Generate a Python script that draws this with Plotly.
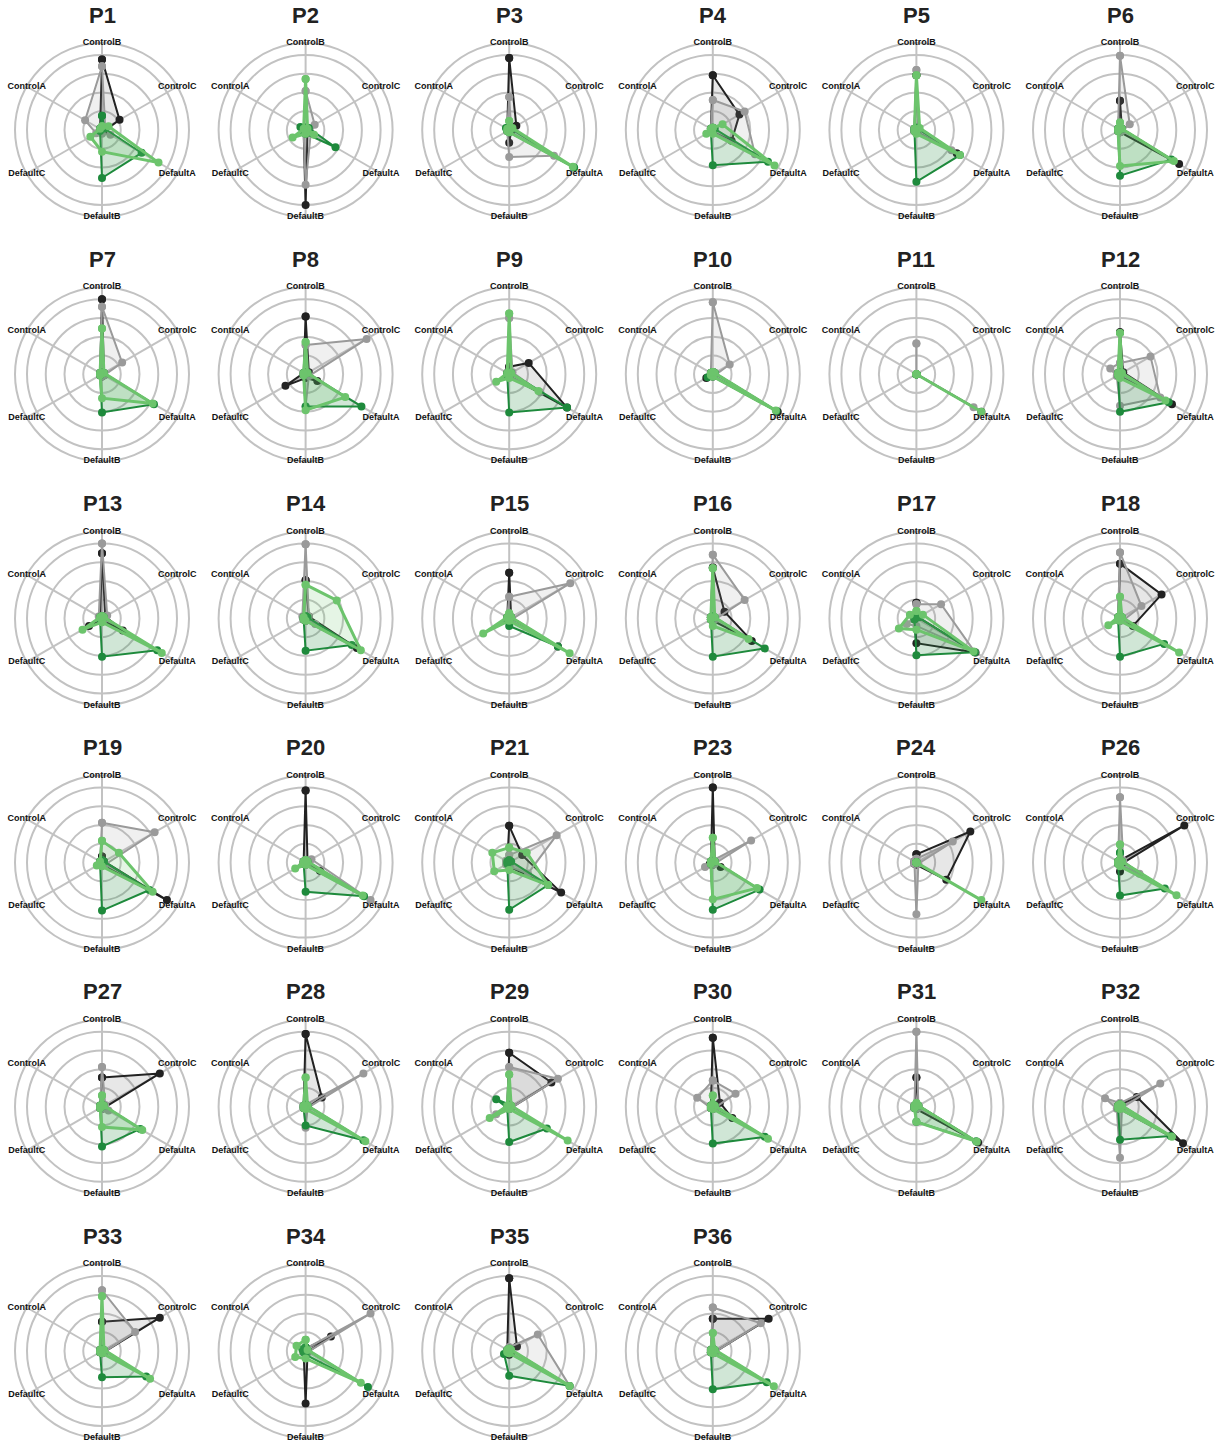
import plotly.graph_objects as go

# Axis categories, clockwise from the top
CATS = ["ControlB", "ControlC", "DefaultA", "DefaultB", "DefaultC", "ControlA"]

PANELS = ["P1", "P2", "P3", "P4", "P5", "P6",
          "P7", "P8", "P9", "P10", "P11", "P12",
          "P13", "P14", "P15", "P16", "P17", "P18",
          "P19", "P20", "P21", "P23", "P24", "P26",
          "P27", "P28", "P29", "P30", "P31", "P32",
          "P33", "P34", "P35", "P36"]

# Values per panel, ordered as CATS
black = [
    [0.94, 0.27, 0.03, 0.03, 0.03, 0.03],
    [0.03, 0.03, 0.03, 1.00, 0.03, 0.03],
    [0.96, 0.11, 0.03, 0.17, 0.03, 0.03],
    [0.73, 0.41, 0.29, 0.03, 0.03, 0.03],
    [0.73, 0.03, 0.62, 0.03, 0.03, 0.03],
    [0.39, 0.03, 0.91, 0.03, 0.03, 0.03],
    [1.00, 0.03, 0.03, 0.03, 0.03, 0.03],
    [0.77, 0.05, 0.18, 0.05, 0.31, 0.03],
    [0.10, 0.30, 0.89, 0.03, 0.03, 0.03],
    [0.03, 0.03, 1.00, 0.03, 0.10, 0.03],
    [0.00, 0.00, 1.00, 0.00, 0.00, 0.00],
    [0.56, 0.05, 0.80, 0.03, 0.03, 0.03],
    [0.87, 0.05, 0.32, 0.03, 0.20, 0.03],
    [0.51, 0.05, 0.79, 0.03, 0.03, 0.03],
    [0.61, 0.03, 0.75, 0.03, 0.03, 0.03],
    [0.68, 0.18, 0.60, 0.03, 0.03, 0.03],
    [0.21, 0.03, 0.91, 0.33, 0.03, 0.03],
    [0.73, 0.64, 0.20, 0.03, 0.03, 0.03],
    [0.08, 0.03, 1.00, 0.03, 0.03, 0.03],
    [0.96, 0.03, 0.22, 0.03, 0.03, 0.03],
    [0.49, 0.20, 0.80, 0.05, 0.03, 0.03],
    [1.00, 0.03, 0.12, 0.03, 0.05, 0.03],
    [0.11, 0.83, 0.46, 0.03, 0.03, 0.03],
    [0.03, 0.99, 0.03, 0.12, 0.03, 0.03],
    [0.39, 0.89, 0.03, 0.03, 0.03, 0.03],
    [0.97, 0.25, 0.03, 0.03, 0.03, 0.03],
    [0.72, 0.65, 0.03, 0.03, 0.03, 0.03],
    [0.92, 0.11, 0.30, 0.03, 0.03, 0.03],
    [0.39, 0.03, 0.95, 0.03, 0.03, 0.03],
    [0.03, 0.26, 0.97, 0.03, 0.03, 0.03],
    [0.39, 0.89, 0.03, 0.03, 0.03, 0.03],
    [0.03, 0.39, 0.03, 0.70, 0.03, 0.03],
    [0.97, 0.12, 0.03, 0.05, 0.03, 0.03],
    [0.43, 0.86, 0.03, 0.03, 0.03, 0.03],
]

gray = [
    [0.85, 0.05, 0.13, 0.05, 0.09, 0.26],
    [0.52, 0.14, 0.08, 0.73, 0.03, 0.03],
    [0.44, 0.03, 0.69, 0.36, 0.03, 0.03],
    [0.40, 0.49, 0.65, 0.03, 0.03, 0.03],
    [0.80, 0.03, 0.54, 0.03, 0.03, 0.03],
    [0.99, 0.15, 0.03, 0.03, 0.03, 0.03],
    [0.90, 0.31, 0.03, 0.03, 0.03, 0.03],
    [0.39, 0.94, 0.05, 0.43, 0.03, 0.03],
    [0.75, 0.05, 0.48, 0.03, 0.03, 0.03],
    [0.96, 0.26, 0.03, 0.03, 0.03, 0.03],
    [0.41, 0.00, 0.88, 0.00, 0.00, 0.00],
    [0.15, 0.47, 0.62, 0.42, 0.05, 0.15],
    [1.00, 0.08, 0.03, 0.03, 0.03, 0.05],
    [0.99, 0.05, 0.15, 0.03, 0.03, 0.05],
    [0.29, 0.94, 0.03, 0.03, 0.03, 0.03],
    [0.85, 0.49, 0.03, 0.03, 0.03, 0.03],
    [0.19, 0.38, 0.90, 0.10, 0.15, 0.03],
    [0.88, 0.33, 0.05, 0.03, 0.03, 0.03],
    [0.53, 0.81, 0.05, 0.03, 0.05, 0.03],
    [0.03, 0.09, 1.00, 0.03, 0.03, 0.03],
    [0.10, 0.73, 0.29, 0.05, 0.05, 0.05],
    [0.03, 0.59, 0.03, 0.03, 0.12, 0.03],
    [0.05, 0.56, 0.03, 0.69, 0.03, 0.03],
    [0.87, 0.05, 0.30, 0.03, 0.03, 0.03],
    [0.53, 0.05, 0.10, 0.03, 0.03, 0.03],
    [0.03, 0.89, 0.03, 0.28, 0.03, 0.03],
    [0.53, 0.75, 0.03, 0.03, 0.20, 0.03],
    [0.35, 0.35, 0.03, 0.03, 0.03, 0.24],
    [1.00, 0.03, 0.03, 0.03, 0.03, 0.03],
    [0.05, 0.62, 0.03, 0.68, 0.05, 0.23],
    [0.81, 0.51, 0.03, 0.03, 0.03, 0.03],
    [0.03, 1.00, 0.03, 0.03, 0.03, 0.03],
    [0.05, 0.44, 0.93, 0.03, 0.03, 0.03],
    [0.58, 0.74, 0.03, 0.03, 0.03, 0.03],
]

dark_green = [
    [0.19, 0.04, 0.61, 0.64, 0.03, 0.03],
    [0.03, 0.05, 0.46, 0.05, 0.03, 0.08],
    [0.05, 0.03, 1.00, 0.03, 0.03, 0.05],
    [0.03, 0.03, 0.85, 0.47, 0.03, 0.03],
    [0.03, 0.03, 0.67, 0.69, 0.03, 0.03],
    [0.03, 0.03, 0.79, 0.61, 0.03, 0.03],
    [0.03, 0.03, 0.80, 0.51, 0.03, 0.03],
    [0.03, 0.03, 0.86, 0.43, 0.03, 0.03],
    [0.03, 0.03, 0.89, 0.51, 0.03, 0.03],
    [0.03, 0.03, 0.98, 0.03, 0.08, 0.03],
    [0.00, 0.00, 0.00, 0.00, 0.00, 0.00],
    [0.03, 0.03, 0.75, 0.50, 0.03, 0.03],
    [0.03, 0.03, 0.85, 0.51, 0.03, 0.03],
    [0.03, 0.03, 0.71, 0.43, 0.03, 0.03],
    [0.03, 0.03, 0.75, 0.10, 0.03, 0.03],
    [0.03, 0.03, 0.80, 0.51, 0.03, 0.03],
    [0.03, 0.03, 0.90, 0.49, 0.03, 0.03],
    [0.03, 0.03, 0.68, 0.51, 0.03, 0.03],
    [0.03, 0.03, 0.73, 0.64, 0.03, 0.03],
    [0.03, 0.03, 0.90, 0.39, 0.03, 0.03],
    [0.03, 0.03, 0.60, 0.63, 0.03, 0.03],
    [0.03, 0.03, 0.72, 0.63, 0.03, 0.03],
    [0.00, 0.00, 0.00, 0.00, 0.00, 0.00],
    [0.13, 0.03, 0.69, 0.44, 0.03, 0.03],
    [0.03, 0.03, 0.59, 0.53, 0.03, 0.03],
    [0.03, 0.03, 0.89, 0.25, 0.03, 0.03],
    [0.03, 0.03, 0.58, 0.47, 0.03, 0.20],
    [0.03, 0.03, 0.80, 0.49, 0.03, 0.03],
    [0.03, 0.03, 0.92, 0.20, 0.03, 0.03],
    [0.03, 0.03, 0.78, 0.44, 0.03, 0.03],
    [0.03, 0.03, 0.68, 0.35, 0.03, 0.03],
    [0.05, 0.03, 0.96, 0.05, 0.03, 0.05],
    [0.03, 0.03, 0.93, 0.33, 0.08, 0.03],
    [0.03, 0.03, 0.83, 0.51, 0.03, 0.03],
]

light_green = [
    [0.05, 0.10, 0.87, 0.29, 0.18, 0.03],
    [0.68, 0.03, 0.13, 0.05, 0.20, 0.03],
    [0.12, 0.05, 0.98, 0.03, 0.03, 0.03],
    [0.03, 0.15, 0.95, 0.05, 0.10, 0.03],
    [0.73, 0.05, 0.67, 0.05, 0.03, 0.03],
    [0.10, 0.03, 0.83, 0.48, 0.03, 0.03],
    [0.61, 0.03, 0.78, 0.32, 0.03, 0.03],
    [0.43, 0.03, 0.61, 0.48, 0.03, 0.03],
    [0.81, 0.03, 0.45, 0.05, 0.20, 0.03],
    [0.03, 0.03, 0.97, 0.03, 0.03, 0.03],
    [0.00, 0.00, 1.00, 0.00, 0.00, 0.00],
    [0.55, 0.03, 0.70, 0.05, 0.03, 0.03],
    [0.03, 0.03, 0.92, 0.05, 0.30, 0.03],
    [0.45, 0.48, 0.85, 0.03, 0.03, 0.03],
    [0.07, 0.03, 0.93, 0.03, 0.40, 0.03],
    [0.67, 0.03, 0.55, 0.10, 0.03, 0.03],
    [0.10, 0.10, 0.88, 0.15, 0.27, 0.10],
    [0.29, 0.03, 0.91, 0.03, 0.18, 0.03],
    [0.29, 0.26, 0.78, 0.05, 0.08, 0.03],
    [0.03, 0.03, 0.88, 0.03, 0.16, 0.03],
    [0.20, 0.27, 0.60, 0.10, 0.23, 0.26],
    [0.33, 0.03, 0.68, 0.49, 0.03, 0.03],
    [0.00, 0.00, 1.00, 0.00, 0.00, 0.00],
    [0.24, 0.03, 0.87, 0.05, 0.03, 0.03],
    [0.15, 0.03, 0.62, 0.27, 0.03, 0.03],
    [0.39, 0.03, 0.92, 0.03, 0.03, 0.03],
    [0.43, 0.03, 0.90, 0.03, 0.30, 0.03],
    [0.15, 0.03, 0.85, 0.03, 0.03, 0.03],
    [0.05, 0.03, 0.93, 0.20, 0.03, 0.03],
    [0.03, 0.03, 0.80, 0.03, 0.03, 0.03],
    [0.73, 0.03, 0.74, 0.03, 0.03, 0.03],
    [0.15, 0.03, 0.85, 0.10, 0.16, 0.14],
    [0.03, 0.03, 0.93, 0.03, 0.03, 0.03],
    [0.24, 0.03, 0.94, 0.03, 0.03, 0.03],
]

# Series styling: (data, line colour, fill colour, line width)
SERIES = [
    (black, "#222222", "rgba(60,60,60,0.12)", 2.0),
    (gray, "#9a9a9a", "rgba(150,150,150,0.14)", 2.0),
    (dark_green, "#1e8a3c", "rgba(40,140,70,0.22)", 2.0),
    (light_green, "#6cc46c", "rgba(110,200,110,0.18)", 3.0),
]

W, H = 1221, 1445
NCOL = 6
R_PX = 87            # outer ring radius in pixels
X0, DX = 102, 203.6  # first panel centre and column spacing
Y0, DY = 130, 244.2  # first panel centre and row spacing
R_MAX = 1.16
GRID = "#c2c2c2"
FONT = "Liberation Sans, Arial, sans-serif"

fig = go.Figure()
layout = {}
annotations = []

for i, name in enumerate(PANELS):
    col, row = i % NCOL, i // NCOL
    cx, cy = X0 + DX * col, Y0 + DY * row
    key = "polar" if i == 0 else f"polar{i + 1}"

    for data, lc, fc, lw in SERIES:
        vals = data[i]
        fig.add_trace(go.Scatterpolar(
            r=vals + [vals[0]], theta=CATS + [CATS[0]],
            mode="lines+markers", fill="toself", fillcolor=fc,
            line=dict(color=lc, width=lw),
            marker=dict(color=lc, size=8),
            subplot=key, showlegend=False, hoverinfo="skip",
        ))

    # Category labels sitting on the outer ring
    fig.add_trace(go.Scatterpolar(
        r=[R_MAX] * len(CATS), theta=CATS, mode="text", text=CATS,
        textposition="middle center",
        textfont=dict(family=FONT, size=9, color="#111111", weight="bold"),
        cliponaxis=False, subplot=key, showlegend=False, hoverinfo="skip",
    ))

    layout[key] = dict(
        domain=dict(x=[(cx - R_PX) / W, (cx + R_PX) / W],
                    y=[1 - (cy + R_PX) / H, 1 - (cy - R_PX) / H]),
        bgcolor="white",
        radialaxis=dict(range=[0, R_MAX], tickvals=[0.25, 0.5, 0.75, 1.0],
                        showticklabels=False, ticks="", showline=False,
                        gridcolor=GRID, gridwidth=2, layer="below traces"),
        angularaxis=dict(categoryorder="array", categoryarray=CATS,
                         rotation=90, direction="clockwise",
                         showticklabels=False, ticks="",
                         showline=True, linecolor=GRID, linewidth=2,
                         gridcolor=GRID, gridwidth=2, layer="below traces"),
    )

    annotations.append(dict(
        text=f"<b>{name}</b>", x=cx / W, y=1 - (15 + DY * row) / H,
        xref="paper", yref="paper", xanchor="center", yanchor="middle",
        showarrow=False, font=dict(family=FONT, size=22, color="#222222"),
    ))

fig.update_layout(
    width=W, height=H,
    margin=dict(l=0, r=0, t=0, b=0),
    paper_bgcolor="white", plot_bgcolor="white",
    annotations=annotations,
    **layout,
)

fig.write_html("out.html")
